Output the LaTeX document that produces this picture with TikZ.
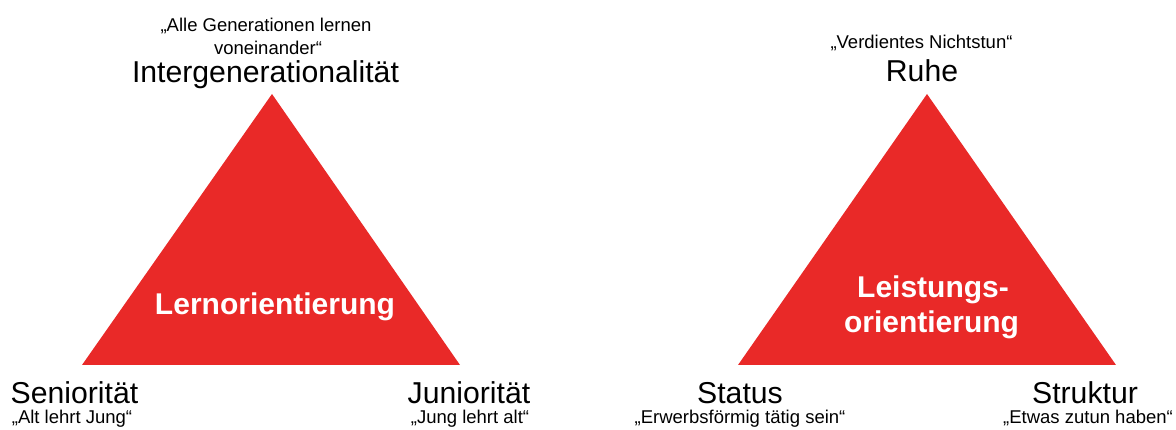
\documentclass[tikz,border=0pt]{standalone}
\usepackage{fontspec}
\setmainfont{Liberation Sans}
\definecolor{trired}{RGB}{233,41,40}
\begin{document}
\begin{tikzpicture}[x=1pt,y=-1pt,
  mainlbl/.style={inner sep=0pt,anchor=base,font=\fontsize{30.2}{34}\selectfont},
  sublbl/.style={inner sep=0pt,anchor=base,font=\fontsize{18.5}{22}\selectfont},
  innerlbl/.style={inner sep=0pt,anchor=base,text=white,font=\bfseries\fontsize{30}{34}\selectfont},
  tri/.style={fill=trired}]
\useasboundingbox (0,0) rectangle (1176,430);
% left triangle
\coordinate (LA) at (272,94);
\coordinate (LB) at (82,365);
\coordinate (LC) at (460,365);
\fill[tri] (LA) -- (LB) -- (LC) -- cycle;
% right triangle
\coordinate (RA) at (927,94);
\coordinate (RB) at (738,365);
\coordinate (RC) at (1116,365);
\fill[tri] (RA) -- (RB) -- (RC) -- cycle;
% left labels
\node[sublbl] (lt1) at (266,31.5) {„Alle Generationen lernen};
\node[sublbl] (lt2) at (268,55) {voneinander“};
\node[mainlbl] (lt3) at (265.5,83) {Intergenerationalität};
\node[innerlbl] (lin) at (275,315) {Lernorientierung};
\node[mainlbl] (lb1) at (74.5,403) {Seniorität};
\node[sublbl] (lb2) at (72,424) {„Alt lehrt Jung“};
\node[mainlbl] (lc1) at (469,403) {Juniorität};
\node[sublbl] (lc2) at (470,424) {„Jung lehrt alt“};
% right labels
\node[sublbl] (rt1) at (921.5,48.3) {„Verdientes Nichtstun“};
\node[mainlbl] (rt2) at (922,81.7) {Ruhe};
\node[innerlbl] (rin1) at (933,298) {Leistungs-};
\node[innerlbl] (rin2) at (931.5,332.5) {orientierung};
\node[mainlbl] (rb1) at (740,403) {Status};
\node[sublbl] (rb2) at (740,424) {„Erwerbsförmig tätig sein“};
\node[mainlbl] (rc1) at (1085,403) {Struktur};
\node[sublbl] (rc2) at (1088,424) {„Etwas zutun haben“};
\end{tikzpicture}
\end{document}
